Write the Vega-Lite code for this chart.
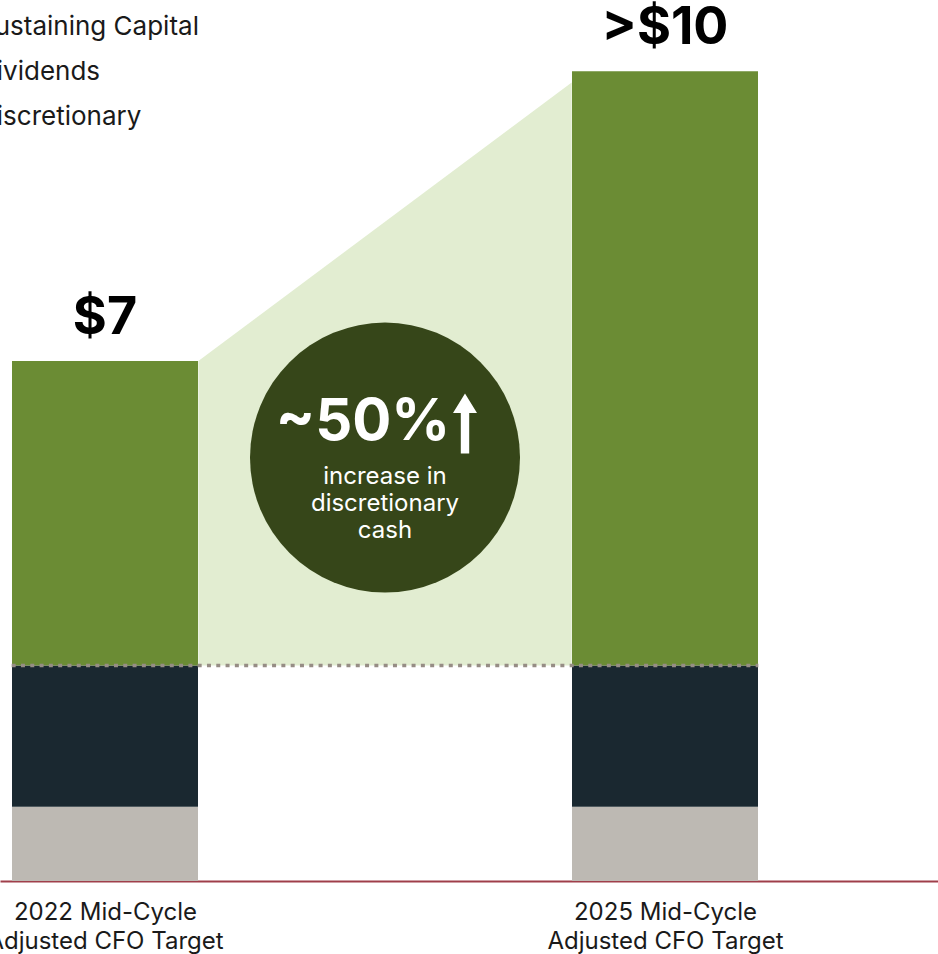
{
  "$schema": "https://vega.github.io/schema/vega-lite/v6.json",
  "width": 938,
  "height": 881,
  "autosize": {"type": "none"},
  "padding": {"left": 0, "top": 0, "right": 0, "bottom": 73},
  "background": "white",
  "config": {"view": {"stroke": null}, "font": "Inter"},
  "datasets": {
    "segments": [
      {"year": 2022, "segment": "Sustaining Capital", "value": 1.0},
      {"year": 2022, "segment": "Dividends", "value": 1.9},
      {"year": 2022, "segment": "Discretionary", "value": 4.1},
      {"year": 2025, "segment": "Sustaining Capital", "value": 1.0},
      {"year": 2025, "segment": "Dividends", "value": 1.9},
      {"year": 2025, "segment": "Discretionary", "value": 8.0}
    ],
    "totals": [
      {"year": 2022, "label": "$7", "total": 7.0},
      {"year": 2025, "label": ">$10", "total": 10.9}
    ],
    "shade": [
      {"edge": 2022.5, "top": 7.0, "base": 2.9},
      {"edge": 2024.5, "top": 10.75, "base": 2.9}
    ],
    "callout": [
      {"year": 2023.5, "value": 5.7, "headline": "~50%", "note": "increase in\ndiscretionary\ncash"}
    ]
  },
  "layer": [
    {
      "data": {"name": "shade"},
      "mark": {"type": "area", "color": "#e2edd1"},
      "encoding": {
        "x": {
          "field": "edge", "type": "quantitative",
          "scale": {"domain": [2021.4375, 2026.4625], "nice": false, "zero": false, "padding": 0},
          "axis": {
            "values": [2022, 2025],
            "labelExpr": "datum.value < 2023 ? ['2022 Mid-Cycle', 'Adjusted CFO Target'] : ['2025 Mid-Cycle', 'Adjusted CFO Target']",
            "domainColor": "#9f3f4a", "domainWidth": 2,
            "ticks": false, "grid": false, "title": null,
            "labelFontSize": 24, "labelColor": "#1a1a1a", "labelPadding": 19, "labelLimit": 500,
            "labelLineHeight": 29, "labelFlush": false, "labelOverlap": false, "labelBound": false
          }
        },
        "y": {"field": "top", "type": "quantitative", "scale": {"domain": [0, 11.86], "nice": false}, "axis": null},
        "y2": {"field": "base"}
      }
    },
    {
      "data": {"name": "segments"},
      "transform": [
        {"stack": "value", "groupby": ["year"], "sort": [{"field": "segment", "order": "descending"}], "as": ["v0", "v1"]}
      ],
      "mark": {"type": "bar", "size": 186},
      "encoding": {
        "x": {"field": "year", "type": "quantitative"},
        "y": {"field": "v0", "type": "quantitative"},
        "y2": {"field": "v1"},
        "color": {
          "field": "segment", "type": "nominal",
          "scale": {"domain": ["Sustaining Capital", "Dividends", "Discretionary"], "range": ["#bdb9b3", "#1a2830", "#6b8c34"]},
          "legend": {
            "orient": "none", "legendX": -64, "legendY": 14, "title": null,
            "labelFontSize": 26, "labelColor": "#1a1a1a", "symbolType": "square", "labelLimit": 500,
            "symbolSize": 400, "rowPadding": 19, "labelOffset": 16, "symbolStrokeWidth": 0
          }
        }
      }
    },
    {
      "data": {"values": [{}]},
      "mark": {"type": "rule", "color": "#968d85", "strokeWidth": 3.5, "strokeDash": [4, 5.3]},
      "encoding": {
        "x": {"datum": 2021.5, "type": "quantitative"},
        "x2": {"datum": 2025.5},
        "y": {"datum": 2.9, "type": "quantitative"}
      }
    },
    {
      "data": {"name": "totals"},
      "mark": {"type": "text", "fontSize": 52, "fontWeight": "bold", "color": "#000000", "baseline": "middle", "dy": -43},
      "encoding": {
        "x": {"field": "year", "type": "quantitative"},
        "y": {"field": "total", "type": "quantitative"},
        "text": {"field": "label"}
      }
    },
    {
      "data": {"name": "callout"},
      "mark": {"type": "point", "shape": "circle", "filled": true, "size": 72900, "color": "#364619", "opacity": 1},
      "encoding": {
        "x": {"field": "year", "type": "quantitative"},
        "y": {"field": "value", "type": "quantitative"}
      }
    },
    {
      "data": {"name": "callout"},
      "mark": {"type": "text", "fontSize": 58, "fontWeight": "bold", "color": "white", "baseline": "middle", "dx": -22, "dy": -35},
      "encoding": {
        "x": {"field": "year", "type": "quantitative"},
        "y": {"field": "value", "type": "quantitative"},
        "text": {"field": "headline"}
      }
    },
    {
      "data": {"name": "callout"},
      "mark": {"type": "point", "shape": "M0,-1 L0.4,-0.35 L0.14,-0.35 L0.14,1 L-0.14,1 L-0.14,-0.35 L-0.4,-0.35 Z", "filled": true, "size": 3600, "color": "white", "opacity": 1, "xOffset": 80, "yOffset": -34},
      "encoding": {
        "x": {"field": "year", "type": "quantitative"},
        "y": {"field": "value", "type": "quantitative"}
      }
    },
    {
      "data": {"name": "callout"},
      "mark": {"type": "text", "fontSize": 24, "color": "white", "baseline": "middle", "lineBreak": "\n", "lineHeight": 27, "dy": 19},
      "encoding": {
        "x": {"field": "year", "type": "quantitative"},
        "y": {"field": "value", "type": "quantitative"},
        "text": {"field": "note"}
      }
    }
  ]
}
